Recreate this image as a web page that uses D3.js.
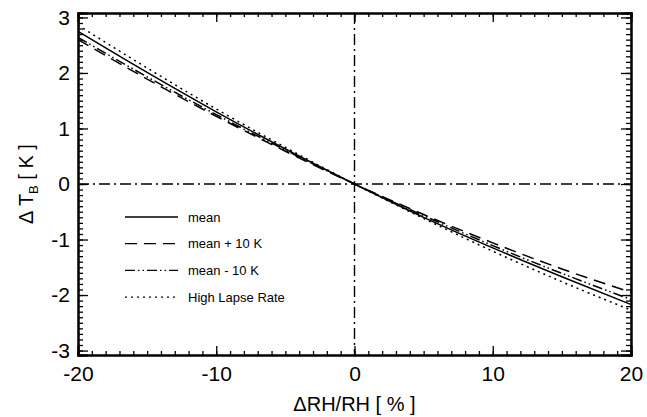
<!DOCTYPE html>
<html>
<head>
<meta charset="utf-8">
<script src="https://cdn.jsdelivr.net/npm/d3@7"></script>
<style>
  body { margin: 0; background: #fff; }
  text { font-family: "Liberation Sans", Arial, Helvetica, sans-serif; fill: #000; }
</style>
</head>
<body>
<div id="chart"></div>
<script>
// values
let xs = [-20, -15, -10, -5, 0, 5, 10, 15, 20]
let meanVals = [2.75, 2.01, 1.30, 0.63, 0, -0.60, -1.15, -1.67, -2.17]
let plus10Vals = [2.60, 1.89, 1.22, 0.59, 0, -0.55, -1.06, -1.53, -1.95]
let minus10Vals = [2.64, 1.93, 1.25, 0.61, 0, -0.57, -1.11, -1.61, -2.08]
let highLapseVals = [2.86, 2.09, 1.35, 0.66, 0, -0.62, -1.21, -1.76, -2.27]
let seriesNames = ["mean", "mean + 10 K", "mean - 10 K", "High Lapse Rate"]
let xTicks = [-20, -10, 0, 10, 20]
let yTicks = [-3, -2, -1, 0, 1, 2, 3]

let width = 647, height = 417
let margin = { top: 13, left: 78, right: 16, bottom: 62 }
let bodyWidth = width - margin.left - margin.right
let bodyHeight = height - margin.top - margin.bottom

let svg = d3.select("#chart").append("svg")
    .attr("width", width)
    .attr("height", height)
let container = svg.append("g")
    .attr("transform", "translate(" + [margin.left, margin.top] + ")")

let xScale = d3.scaleLinear().domain([-20, 20]).range([0, bodyWidth])
let yScale = d3.scaleLinear().domain([-3.08, 3.08]).range([bodyHeight, 0])

let dashes = ["none", "12,7", "10,3,1.5,3,1.5,3", "2,4"]
let allVals = [meanVals, plus10Vals, minus10Vals, highLapseVals]

// zero lines
container.append("line")
    .attr("x1", 0).attr("x2", bodyWidth)
    .attr("y1", yScale(0)).attr("y2", yScale(0))
    .style("stroke", "#000").style("stroke-width", 1.4)
    .style("stroke-dasharray", "11,4,2,4")
container.append("line")
    .attr("x1", xScale(0)).attr("x2", xScale(0))
    .attr("y1", 0).attr("y2", bodyHeight)
    .style("stroke", "#000").style("stroke-width", 1.4)
    .style("stroke-dasharray", "11,4,2,4")

// curves
let line = d3.line()
    .x(d => xScale(d[0]))
    .y(d => yScale(d[1]))
    .curve(d3.curveMonotoneX)

allVals.forEach((vals, i) => {
    container.append("path")
        .datum(xs.map((x, j) => [x, vals[j]]))
        .attr("d", line)
        .style("fill", "none")
        .style("stroke", "#000")
        .style("stroke-width", 1.5)
        .style("stroke-dasharray", dashes[i])
})

// axes, IDL style ticks pointing inward on all four sides
let xMinor = d3.range(-20, 21, 1)
let yMinor = d3.range(-30, 31, 1).map(d => d / 10)

let axB = d3.axisBottom(xScale).tickValues(xMinor).tickSize(-4).tickFormat("")
let axT = d3.axisTop(xScale).tickValues(xMinor).tickSize(-4).tickFormat("")
let axL = d3.axisLeft(yScale).tickValues(yMinor).tickSize(-5).tickFormat("")
let axR = d3.axisRight(yScale).tickValues(yMinor).tickSize(-5).tickFormat("")
container.append("g").attr("transform", "translate(0," + bodyHeight + ")").call(axB)
container.append("g").call(axT)
container.append("g").call(axL)
container.append("g").attr("transform", "translate(" + bodyWidth + ",0)").call(axR)

container.append("g").attr("transform", "translate(0," + bodyHeight + ")")
    .call(d3.axisBottom(xScale).tickValues(xTicks).tickSize(-9).tickPadding(11).tickFormat(d3.format("d")))
    .call(g => g.selectAll("text").style("font-size", "21px"))
container.append("g")
    .call(d3.axisTop(xScale).tickValues(xTicks).tickSize(-9).tickFormat(""))
container.append("g")
    .call(d3.axisLeft(yScale).tickValues(yTicks).tickSize(-10).tickPadding(8).tickFormat(d3.format("d")))
    .call(g => g.selectAll("text").style("font-size", "21px"))
container.append("g").attr("transform", "translate(" + bodyWidth + ",0)")
    .call(d3.axisRight(yScale).tickValues(yTicks).tickSize(-10).tickFormat(""))

container.selectAll(".domain").style("stroke-width", 2)
container.selectAll(".tick line").style("stroke-width", 1.3)

// minus signs as plain hyphens like the original
container.selectAll(".tick text").text(function(){ return d3.select(this).text().replace("−", "-") })

// axis titles
svg.append("text")
    .attr("x", margin.left + xScale(0))
    .attr("y", 411)
    .style("text-anchor", "middle")
    .style("font-size", "20px")
    .text("ΔRH/RH [ % ]")

let yt = svg.append("text")
    .attr("transform", "translate(33," + (margin.top + yScale(0)) + ") rotate(-90)")
    .style("text-anchor", "middle")
    .style("font-size", "20px")
yt.append("tspan").text("Δ T")
yt.append("tspan").attr("dy", 5).style("font-size", "13px").text("B")
yt.append("tspan").attr("dy", -5).text(" [ K ]")

// legend
let legend = svg.append("g").attr("transform", "translate(125,217)")
seriesNames.forEach((name, i) => {
    legend.append("line")
        .attr("x1", 0).attr("x2", 53)
        .attr("y1", i * 26.7).attr("y2", i * 26.7)
        .style("stroke", "#000").style("stroke-width", 1.3)
        .style("stroke-dasharray", dashes[i])
    legend.append("text")
        .attr("x", 63).attr("y", i * 26.7)
        .attr("dy", "0.35em")
        .style("font-size", "13px")
        .text(name)
})
</script>
</body>
</html>
